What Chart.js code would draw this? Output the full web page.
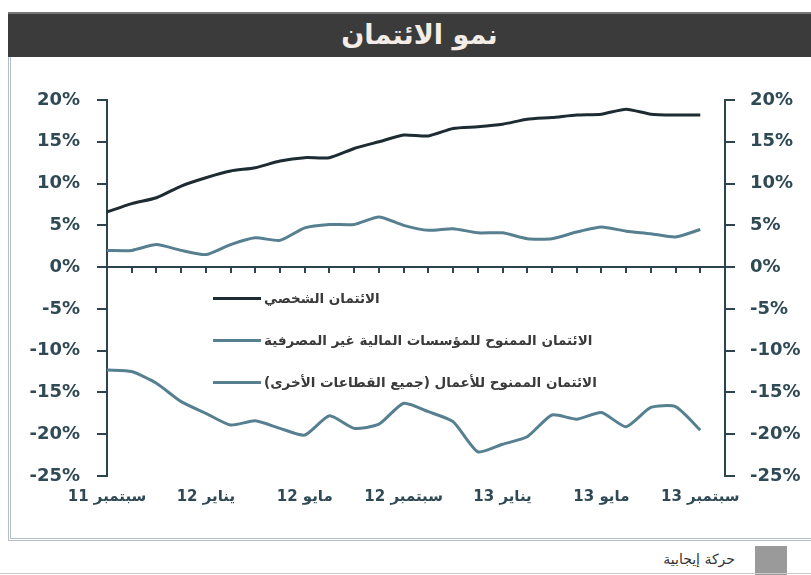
<!DOCTYPE html>
<html>
<head>
<meta charset="utf-8">
<script src="https://cdn.jsdelivr.net/npm/chart.js@4"></script>
<style>
  body { margin: 0; background: #fff; font-family: "DejaVu Sans", sans-serif; }
  #wrap { position: relative; width: 811px; height: 575px; overflow: hidden; }
  .bar { position: absolute; left: 8px; top: 12px; width: 803px; height: 43px; background: #3b3b3b; border-top: 2px solid #777; }
  .bar span { position: absolute; left: 0; right: 0; top: 5px; text-align: center; color: #f4ece6; font: bold 27px "DejaVu Sans", sans-serif; padding-left: 20px; }
  .panel { position: absolute; left: 8px; top: 57px; width: 810px; height: 481px; border-left: 3px double #b4c0c6; border-bottom: 3px double #b4c0c6; }
  .foot-box { position: absolute; left: 755px; top: 546px; width: 32px; height: 29px; background: #9a9a9a; }
  .foot-txt { position: absolute; right: 76px; top: 551px; font: 14px "DejaVu Sans", sans-serif; color: #333; }
  .foot-line { position: absolute; left: 0; top: 573px; width: 811px; height: 1px; background: #ccc; }
  #legend { position: absolute; left: 213px; top: 277px; }
  .item { display: flex; align-items: center; height: 42px; }
  .swatch { width: 48px; height: 3px; margin-right: 3px; }
  .item span { font: bold 13.5px "DejaVu Sans", sans-serif; color: #3a3a3a; }
  canvas { position: absolute; left: 0; top: 0; }
</style>
</head>
<body>
<div id="wrap">
  <div class="bar"><span>نمو الائتمان</span></div>
  <div class="panel"></div>
  <div class="foot-box"></div>
  <div class="foot-txt">حركة إيجابية</div>
  <div class="foot-line"></div>
  <canvas id="creditChart" width="811" height="575"></canvas>
  <div id="legend"></div>
</div>
<script>
// months from Sep 2011 to Oct 2013, one label each
let monthLabels = [
    "11 سبتمبر", "11 أكتوبر", "11 نوفمبر", "11 ديسمبر",
    "12 يناير", "12 فبراير", "12 مارس", "12 أبريل",
    "12 مايو", "12 يونيو", "12 يوليو", "12 أغسطس",
    "12 سبتمبر", "12 أكتوبر", "12 نوفمبر", "12 ديسمبر",
    "13 يناير", "13 فبراير", "13 مارس", "13 أبريل",
    "13 مايو", "13 يونيو", "13 يوليو", "13 أغسطس",
    "13 سبتمبر", "13 أكتوبر"
];

let seriesNames = [
    "الائتمان الشخصي",
    "الائتمان الممنوح للمؤسسات المالية غير المصرفية",
    "الائتمان الممنوح للأعمال (جميع القطاعات الأخرى)"
];

let personalCredit = [6.6, 7.6, 8.3, 9.7, 10.7, 11.5, 11.9, 12.7, 13.1, 13.1, 14.2, 15.0,
    15.8, 15.7, 16.6, 16.8, 17.1, 17.7, 17.9, 18.2, 18.3, 18.9, 18.3, 18.2, 18.2];

let nonBankCredit = [2.0, 2.0, 2.7, 2.0, 1.5, 2.7, 3.5, 3.2, 4.7, 5.1, 5.1, 6.0,
    5.0, 4.4, 4.6, 4.1, 4.1, 3.4, 3.4, 4.2, 4.8, 4.3, 4.0, 3.6, 4.5];

let businessCredit = [-12.3, -12.5, -13.9, -16.1, -17.5, -18.9, -18.4, -19.3, -20.1, -17.8, -19.3, -18.8,
    -16.3, -17.3, -18.5, -22.1, -21.2, -20.3, -17.7, -18.2, -17.4, -19.1, -16.8, -16.7, -19.5];

let axisMin = -25;
let axisMax = 20;
let axisStep = 5;

const axisColor = '#2b4450';
const labelColor = '#2f4955';
const tickFont = { family: 'DejaVu Sans', size: 18, weight: 'bold' };

const yAxis = (pos, pad, width) => ({
    position: pos,
    min: axisMin,
    max: axisMax,
    ticks: {
        stepSize: axisStep,
        padding: pad,
        color: labelColor,
        font: tickFont,
        callback: v => v + '%'
    },
    grid: { drawOnChartArea: false, tickLength: 10, color: axisColor, lineWidth: 2 },
    border: { color: axisColor, width: 2 },
    afterFit: s => { s.width = width; }
});

var ctx = document.getElementById("creditChart").getContext('2d');
var creditChart = new Chart(ctx, {
    type: 'line',
    data: {
        labels: monthLabels,
        datasets: [{
            label: seriesNames[0],
            data: personalCredit,
            borderColor: '#1d2b33',
            borderWidth: 3
        },
        {
            label: seriesNames[1],
            data: nonBankCredit,
            borderColor: '#56808f',
            borderWidth: 3
        },
        {
            label: seriesNames[2],
            data: businessCredit,
            borderColor: '#56808f',
            borderWidth: 3
        }
        ]
    },
    options: {
        responsive: false,
        animation: false,
        layout: { padding: { top: 100, left: 0, right: 0, bottom: 0 } },
        elements: {
            point: { radius: 0 },
            line: { tension: 0.2, fill: false }
        },
        plugins: {
            legend: { display: false },
            tooltip: { enabled: false }
        },
        scales: {
            x: {
                position: 'bottom',
                grid: { display: false, drawTicks: false },
                border: { display: false },
                ticks: {
                    autoSkip: false,
                    maxRotation: 0,
                    padding: 12,
                    color: labelColor,
                    font: { family: 'DejaVu Sans', size: 15, weight: 'bold' },
                    callback: function (val, i) { return i % 4 === 0 ? this.getLabelForValue(val) : ''; }
                },
                afterFit: s => { s.height = 99; }
            },
            // zero line with monthly tick marks
            x2: {
                type: 'category',
                position: { y: 0 },
                grid: { drawOnChartArea: false, tickLength: 5, color: axisColor, lineWidth: 2 },
                border: { color: axisColor, width: 2 },
                ticks: { display: false, autoSkip: false }
            },
            y: yAxis('left', 17, 107),
            y2: yAxis('right', 15, 86)
        }
    }
});

// html legend inside the plot
let legendBox = document.getElementById('legend');
creditChart.data.datasets.forEach(ds => {
    let row = document.createElement('div');
    row.className = 'item';
    row.innerHTML = '<div class="swatch" style="background:' + ds.borderColor + '"></div><span>' + ds.label + '</span>';
    legendBox.appendChild(row);
});
</script>
</body>
</html>
